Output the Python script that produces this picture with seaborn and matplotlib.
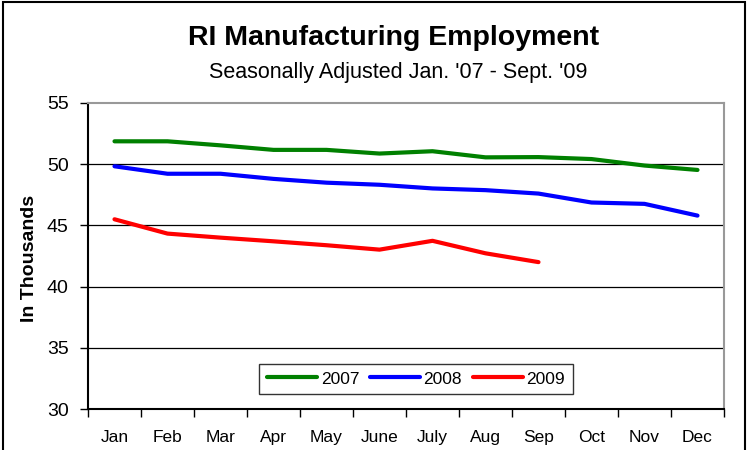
import matplotlib
matplotlib.use("Agg")
import matplotlib.pyplot as plt
import seaborn as sns
import pandas as pd
from matplotlib.patches import Rectangle

months = ["Jan", "Feb", "Mar", "Apr", "May", "June", "July", "Aug", "Sep", "Oct", "Nov", "Dec"]
emp_2007 = [51.87, 51.87, 51.54, 51.17, 51.17, 50.87, 51.06, 50.56, 50.58, 50.42, 49.89, 49.53]
emp_2008 = [49.83, 49.22, 49.22, 48.80, 48.49, 48.32, 48.02, 47.88, 47.60, 46.87, 46.76, 45.80]
emp_2009 = [45.50, 44.33, 44.00, 43.70, 43.38, 43.02, 43.74, 42.72, 42.00]
years = ["2007", "2008", "2009"]
colors = ["#008000", "#0000FF", "#FF0000"]
y_ticks = [30, 35, 40, 45, 50, 55]

rows = []
for yr, vals in zip(years, [emp_2007, emp_2008, emp_2009]):
    for m, v in zip(months, vals):
        rows.append({"month": m, "value": v, "year": yr})
df = pd.DataFrame(rows)

sns.set_theme(style="white")
plt.rcParams["font.family"] = ["Liberation Sans", "DejaVu Sans"]
plt.rcParams["text.color"] = "black"
plt.rcParams["axes.labelcolor"] = "black"
plt.rcParams["xtick.color"] = "black"
plt.rcParams["ytick.color"] = "black"

fig = plt.figure(figsize=(7.5, 4.5), dpi=100)
ax = fig.add_axes([88 / 750, 1 - 409 / 450, (724 - 88) / 750, (409 - 103) / 450])

sns.lineplot(data=df, x="month", y="value", hue="year", hue_order=years,
             palette=dict(zip(years, colors)), linewidth=3, sort=False, ax=ax,
             estimator=None)

ax.set_xlim(-0.5, len(months) - 0.5)
ax.set_ylim(30, 55)
ax.set_yticks(y_ticks)
ax.set_yticklabels([str(t) for t in y_ticks], fontsize=14, color="black")
ax.set_xticks(range(len(months)))
ax.set_xticklabels(months, fontsize=12.5, color="black")
ax.set_xticks([i - 0.5 for i in range(len(months) + 1)], minor=True)
ax.tick_params(axis="x", which="major", length=0, pad=15, labelcolor="black")
ax.tick_params(axis="x", which="minor", length=6, width=1, color="black", direction="out", bottom=True)
ax.tick_params(axis="y", which="major", length=6, width=1, color="black", direction="out", left=True,
               pad=8, labelcolor="black")
ax.set_xlabel("")
ax.set_ylabel("")

for y in y_ticks[1:-1]:
    ax.axhline(y, color="black", linewidth=0.9, zorder=0)

for s in ["left", "bottom"]:
    ax.spines[s].set_color("black")
    ax.spines[s].set_linewidth(1.5)
for s in ["top", "right"]:
    ax.spines[s].set_color("#999999")
    ax.spines[s].set_linewidth(1.5)

leg = ax.legend(loc="center", bbox_to_anchor=(416 / 750, 1 - 379 / 450),
                bbox_transform=fig.transFigure, ncol=3, fontsize=12.5, frameon=True,
                fancybox=False, edgecolor="black", handlelength=2.9, handletextpad=0.2,
                columnspacing=0.6, borderpad=0.45, borderaxespad=0)
leg.get_frame().set_linewidth(1.0)
for line in leg.get_lines():
    line.set_linewidth(3)
for t in leg.get_texts():
    t.set_color("black")

fig.text(394 / 750, 1 - 45 / 450, "RI Manufacturing Employment", ha="center", va="baseline",
         fontsize=20.5, fontweight="bold", color="black")
fig.text(398 / 750, 1 - 78 / 450, "Seasonally Adjusted Jan. '07 - Sept. '09", ha="center",
         va="baseline", fontsize=15.5, color="black")
fig.text(29 / 750, 1 - 258 / 450, "In Thousands", rotation=90, ha="center", va="center",
         fontsize=14, fontweight="bold", color="black")

fig.patches.append(Rectangle((2.5 / 750, -0.1), (745 - 2.5) / 750, 1.1 - 2.5 / 450,
                             transform=fig.transFigure, fill=False, edgecolor="black",
                             linewidth=1.5, clip_on=False))

fig.savefig("out.png", dpi=100)
